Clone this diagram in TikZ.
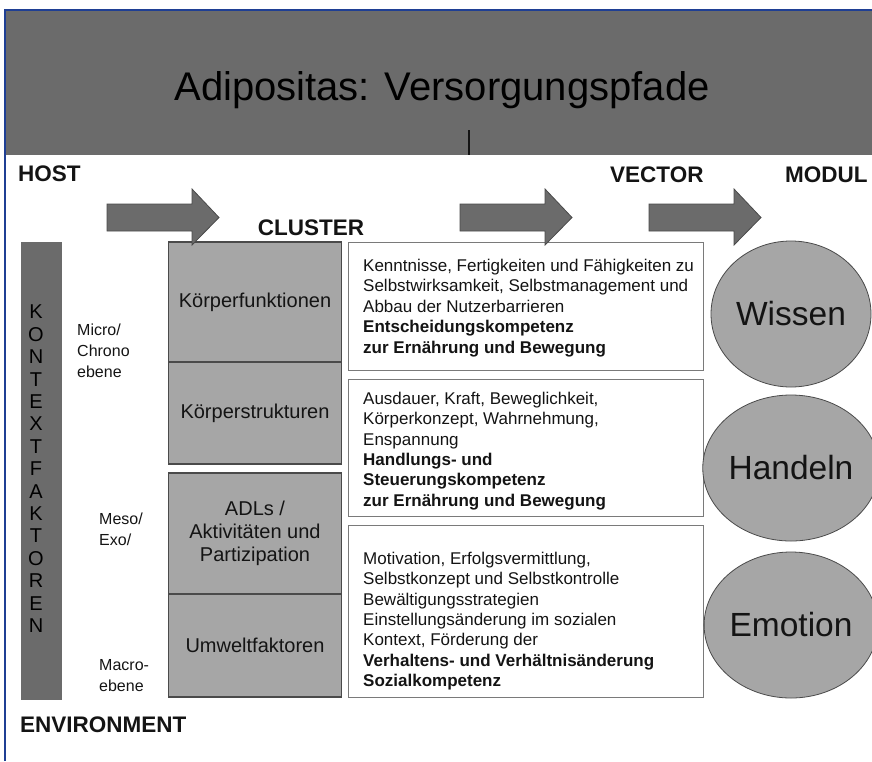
\documentclass[tikz,border=0pt]{standalone}
\usepackage{fontspec}
\setmainfont{Liberation Sans}
\usetikzlibrary{shapes.geometric}
\definecolor{bandgray}{HTML}{6B6B6B}
\definecolor{boxgray}{HTML}{A6A6A6}
\definecolor{edgegray}{HTML}{4A4A4A}
\definecolor{framegray}{HTML}{7A7A7A}
\definecolor{frameblue}{HTML}{1F3F94}
\definecolor{inkgray}{HTML}{141414}

\begin{document}
\begin{tikzpicture}[x=1pt,y=-1pt,
  every node/.style={inner sep=0pt, text=inkgray},
  head/.style={font=\fontsize{22.5}{27}\selectfont\bfseries},
  clusterbox/.style={draw=edgegray, fill=boxgray, line width=1.1pt, minimum width=173pt, align=center, font=\fontsize{20}{23}\selectfont},
  vecbox/.style={draw=framegray, fill=white, line width=1pt, minimum width=355pt},
  vectext/.style={anchor=west, align=left, font=\fontsize{17}{20.4}\selectfont},
  modulnode/.style={ellipse, draw=edgegray, fill=boxgray, line width=0.8pt, minimum width=160pt, minimum height=146pt, font=\fontsize{33.5}{40}\selectfont},
  ebene/.style={anchor=west, align=left, font=\fontsize{16}{21}\selectfont},
  flowarrow/.style={draw=edgegray, fill=bandgray, line width=0.8pt}]
\useasboundingbox (0,0) rectangle (872,761);

% title band
\node[fill=bandgray, minimum width=867pt, minimum height=145pt] (band) at (438.5,82.5) {};
\node[font=\fontsize{40}{48}\selectfont, text=black] (title) at (442,90) {Adipositas: Versorgungspfade};
\coordinate (tick) at (469,130);
\draw[inkgray, line width=1.2pt] (tick) -- (tick |- band.south);
\draw[frameblue, line width=2pt] (5,761) -- (5,10) -- (872,10);

% headings
\node[head, anchor=west] (host) at (18,174) {HOST};
\node[head, anchor=west] (vector) at (610,175) {VECTOR};
\node[head, anchor=west] (modul) at (785,175) {MODUL};
\node[head] (cluster) at (311,228) {CLUSTER};
\node[head, anchor=west] (environment) at (20,725) {ENVIRONMENT};

% kontextfaktoren
\node[fill=bandgray, minimum width=41pt, minimum height=458pt] (kontext) at (41.5,471) {};
\foreach \l [count=\i] in {K,O,N,T,E,X,T,F,A,K,T,O,R,E,N}
  \node[font=\fontsize{20}{20}\selectfont, text=black] (k\i) at (36,{312+22.4*(\i-1)}) {\l};

\node[ebene] (micro) at (77,351) {Micro/\\Chrono\\ebene};
\node[ebene] (meso) at (99,529) {Meso/\\Exo/};
\node[ebene] (macro) at (99,676) {Macro-\\ebene};

% cluster
\node[clusterbox, minimum height=120pt] (funktionen) at (255,302) {Körperfunktionen};
\node[clusterbox, minimum height=102pt] (strukturen) at (255,413) {Körperstrukturen};
\node[clusterbox, minimum height=121pt] (adl) at (255,533.5) {ADLs /\\Aktivitäten und\\Partizipation};
\node[clusterbox, minimum height=103pt] (umwelt) at (255,645.5) {Umweltfaktoren};

% vector
\node[vecbox, minimum height=128pt] (wissenbox) at (525.5,306) {};
\node[vecbox, minimum height=137pt] (handelnbox) at (525.5,447.5) {};
\node[vecbox, minimum height=172pt] (emotionbox) at (525.5,611) {};
\node[vectext] (wissentext) at (363,308) {Kenntnisse, Fertigkeiten und Fähigkeiten zu\\Selbstwirksamkeit, Selbstmanagement und\\Abbau der Nutzerbarrieren\\\textbf{Entscheidungskompetenz}\\\textbf{zur Ernährung und Bewegung}};
\node[vectext] (handelntext) at (363,451) {Ausdauer, Kraft, Beweglichkeit,\\Körperkonzept, Wahrnehmung,\\Enspannung\\\textbf{Handlungs- und}\\\textbf{Steuerungskompetenz}\\\textbf{zur Ernährung und Bewegung}};
\node[vectext] (emotiontext) at (363,621) {Motivation, Erfolgsvermittlung,\\Selbstkonzept und Selbstkontrolle\\Bewältigungsstrategien\\Einstellungsänderung im sozialen\\Kontext, Förderung der\\\textbf{Verhaltens- und Verhältnisänderung}\\\textbf{Sozialkompetenz}};

% modul
\node[modulnode] (wissen) at (791,314) {Wissen};
\node[modulnode] (handeln) at (791,468) {Handeln};
\node[modulnode] (emotion) at (791,625) {Emotion};

% block arrows
\foreach \x in {107,460,649}
  \draw[flowarrow] (\x,204) -- ({\x+85},204) -- ({\x+85},189) -- ({\x+112},217.5)
    -- ({\x+85},245) -- ({\x+85},231) -- (\x,231) -- cycle;
\end{tikzpicture}
\end{document}
